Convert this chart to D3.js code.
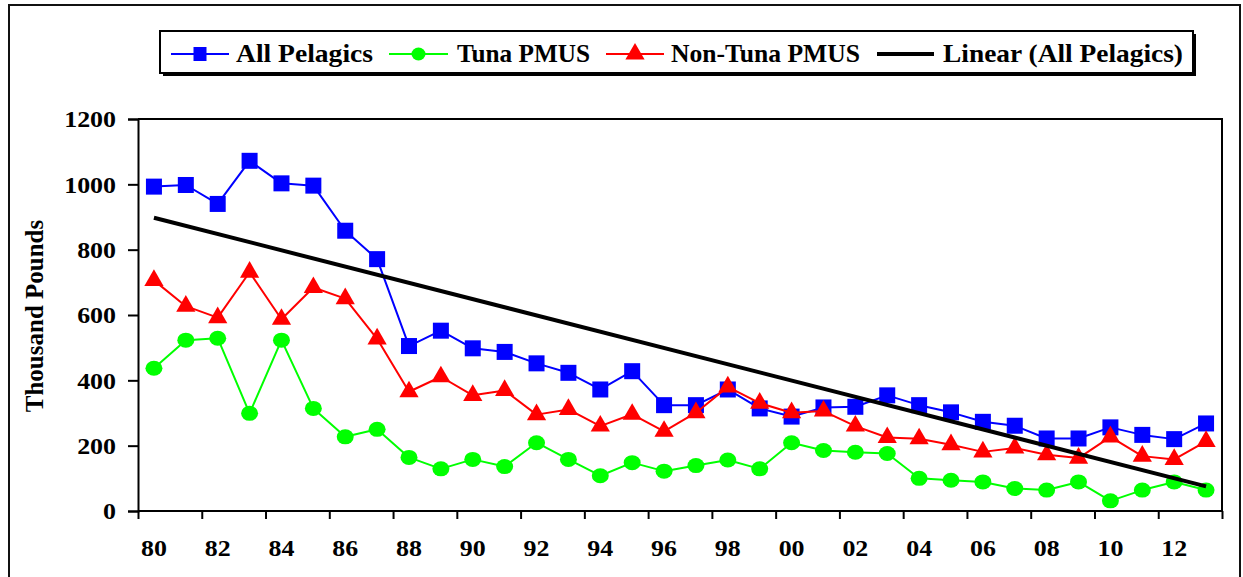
<!DOCTYPE html>
<html>
<head>
<meta charset="utf-8">
<script src="https://cdn.jsdelivr.net/npm/d3@7"></script>
<style>
  html, body { margin: 0; padding: 0; background: #fff; }
  svg { display: block; }
  text { font-family: "Liberation Serif", "Times New Roman", Times, serif; font-weight: bold; fill: #000; }
</style>
</head>
<body>
<svg id="chart" width="1243" height="577"></svg>
<script>
// ---- data ----
const years = ["1980","1981","1982","1983","1984","1985","1986","1987","1988","1989",
               "1990","1991","1992","1993","1994","1995","1996","1997","1998","1999",
               "2000","2001","2002","2003","2004","2005","2006","2007","2008","2009",
               "2010","2011","2012","2013"];
const allPelagics = [993, 998, 940, 1072, 1003, 996, 858, 771, 505, 552,
                     498, 487, 452, 423, 372, 428, 324, 324, 372, 314,
                     289, 317, 319, 354, 324, 302, 273, 261, 222, 222,
                     256, 233, 220, 268];
const tunaPMUS = [437, 523, 529, 299, 523, 314, 227, 250, 164, 129,
                  158, 136, 209, 158, 108, 148, 122, 139, 156, 129,
                  209, 185, 180, 176, 100, 94, 89, 69, 64, 89,
                  31, 64, 89, 64];
const nonTunaPMUS = [706, 627, 592, 731, 587, 684, 650, 527, 365, 411,
                     354, 369, 295, 311, 260, 296, 244, 301, 380, 330,
                     301, 306, 260, 225, 221, 203, 181, 193, 172, 162,
                     227, 168, 158, 213];
const yTicks = [0, 200, 400, 600, 800, 1000, 1200];
const xTickLabels = ["80","82","84","86","88","90","92","94","96","98","00","02","04","06","08","10","12"];
const legendLabels = ["All Pelagics", "Tuna PMUS", "Non-Tuna PMUS", "Linear (All Pelagics)"];

// ---- layout ----
const svg = d3.select("#chart");
const L = 138, R = 1222, T = 119, B = 511;
const FONT = '"Liberation Serif", "Times New Roman", Times, serif';

const x = d3.scaleBand().domain(years).range([L, R]).padding(0);
const bw = x.bandwidth();
const cx = d => x(d) + bw / 2;
const y = d3.scaleLinear().domain([0, 1200]).range([B, T]);

// outer frame
svg.append("rect").attr("x", 9).attr("y", 5).attr("width", 1231).attr("height", 600)
  .attr("fill", "none").attr("stroke", "#111").attr("stroke-width", 2);

// plot box (top and right)
svg.append("path")
  .attr("d", `M${L},${T}H${R}V${B}`)
  .attr("fill", "none").attr("stroke", "#000").attr("stroke-width", 2);

function styleTickText(sel) {
  sel.style("font-size", "24px").style("font-family", FONT).style("font-weight", "bold").attr("fill", "#000");
  sel.each(function () {
    const w = this.getComputedTextLength();
    d3.select(this).attr("textLength", w * 1.08).attr("lengthAdjust", "spacingAndGlyphs");
  });
}

// y axis
const yAxis = svg.append("g").attr("transform", `translate(${L},0)`)
  .call(d3.axisLeft(y).tickValues(yTicks).tickSize(10).tickPadding(12).tickFormat(d3.format("d")));
yAxis.select(".domain").attr("stroke", "#000").attr("stroke-width", 2);
yAxis.selectAll(".tick line").attr("stroke", "#000").attr("stroke-width", 2);
styleTickText(yAxis.selectAll(".tick text"));

// x axis ticks at every second band boundary
const xb = d3.scaleLinear().domain([0, years.length]).range([L, R]);
const xTickAxis = svg.append("g").attr("transform", `translate(0,${B})`)
  .call(d3.axisBottom(xb).tickValues(d3.range(0, years.length + 1, 2)).tickSize(8).tickFormat(""));
xTickAxis.select(".domain").attr("stroke", "#000").attr("stroke-width", 2).attr("d", `M${L},0H${R}`);
xTickAxis.selectAll(".tick line").attr("stroke", "#000").attr("stroke-width", 2);

// x labels at band centers of every second year
const labelYears = years.filter((d, i) => i % 2 === 0);
const xLabAxis = svg.append("g").attr("transform", `translate(0,${B})`)
  .call(d3.axisBottom(x).tickValues(labelYears).tickSize(0).tickPadding(28)
    .tickFormat((d, i) => xTickLabels[i]));
xLabAxis.select(".domain").remove();
styleTickText(xLabAxis.selectAll(".tick text"));

// y title
svg.append("text")
  .attr("transform", `translate(43,${(T + B) / 2 + 1}) rotate(-90)`)
  .attr("text-anchor", "middle")
  .style("font-size", "25px")
  .text("Thousand Pounds");

// ---- series ----
const line = d3.line().x((d, i) => cx(years[i])).y(d => y(d));

function drawLine(vals, color) {
  svg.append("path").datum(vals).attr("d", line)
    .attr("fill", "none").attr("stroke", color).attr("stroke-width", 2).attr("stroke-linejoin", "round");
}

// Tuna (green circles)
drawLine(tunaPMUS, "#00FF00");
svg.append("g").selectAll("ellipse").data(tunaPMUS).join("ellipse")
  .attr("cx", (d, i) => cx(years[i])).attr("cy", d => y(d))
  .attr("rx", 8.5).attr("ry", 7.5).attr("fill", "#00FF00");

// All pelagics (blue squares)
drawLine(allPelagics, "#0000FF");
svg.append("g").selectAll("rect").data(allPelagics).join("rect")
  .attr("x", (d, i) => cx(years[i]) - 8).attr("y", d => y(d) - 8)
  .attr("width", 16).attr("height", 16).attr("fill", "#0000FF");

// Non-tuna (red triangles)
drawLine(nonTunaPMUS, "#FF0000");
const tri = d3.symbol().type(d3.symbolTriangle).size(160);
svg.append("g").selectAll("path").data(nonTunaPMUS).join("path")
  .attr("d", tri)
  .attr("transform", (d, i) => `translate(${cx(years[i])},${y(d)})`)
  .attr("fill", "#FF0000");

// Linear trend (least squares fit of All Pelagics)
const n = allPelagics.length;
const idx = d3.range(n);
const mx = d3.mean(idx), my = d3.mean(allPelagics);
const slope = d3.sum(idx, i => (i - mx) * (allPelagics[i] - my)) / d3.sum(idx, i => (i - mx) * (i - mx));
const icpt = my - slope * mx;
svg.append("line")
  .attr("x1", cx(years[0])).attr("y1", y(icpt))
  .attr("x2", cx(years[n - 1])).attr("y2", y(icpt + slope * (n - 1)))
  .attr("stroke", "#000").attr("stroke-width", 4);

// ---- legend ----
const lg = svg.append("g");
lg.append("rect").attr("x", 163).attr("y", 34).attr("width", 1033).attr("height", 42).attr("fill", "#000");
lg.append("rect").attr("x", 160).attr("y", 31).attr("width", 1033).attr("height", 42)
  .attr("fill", "#fff").attr("stroke", "#000").attr("stroke-width", 2);

const ly = 54;
const items = [
  {x1: 171, x2: 229, color: "#0000FF", tx: 236, tw: 137, marker: "square"},
  {x1: 389, x2: 448, color: "#00FF00", tx: 457, tw: 133, marker: "circle"},
  {x1: 606, x2: 664, color: "#FF0000", tx: 671, tw: 189, marker: "triangle"},
  {x1: 877, x2: 934, color: "#000000", tx: 943, tw: 240, marker: "none"}
];
items.forEach((it, i) => {
  lg.append("line").attr("x1", it.x1).attr("x2", it.x2).attr("y1", ly).attr("y2", ly)
    .attr("stroke", it.color).attr("stroke-width", it.marker === "none" ? 4 : 2);
  const mxp = (it.x1 + it.x2) / 2;
  if (it.marker === "square") {
    lg.append("rect").attr("x", mxp - 6.5).attr("y", ly - 7).attr("width", 13).attr("height", 14).attr("fill", it.color);
  } else if (it.marker === "circle") {
    lg.append("ellipse").attr("cx", mxp).attr("cy", ly).attr("rx", 7).attr("ry", 6.5).attr("fill", it.color);
  } else if (it.marker === "triangle") {
    lg.append("path").attr("d", tri).attr("transform", `translate(${mxp},${ly})`).attr("fill", it.color);
  }
  lg.append("text").attr("x", it.tx).attr("y", ly + 8)
    .attr("textLength", it.tw).attr("lengthAdjust", "spacingAndGlyphs")
    .style("font-size", "25px")
    .text(legendLabels[i]);
});
</script>
</body>
</html>
